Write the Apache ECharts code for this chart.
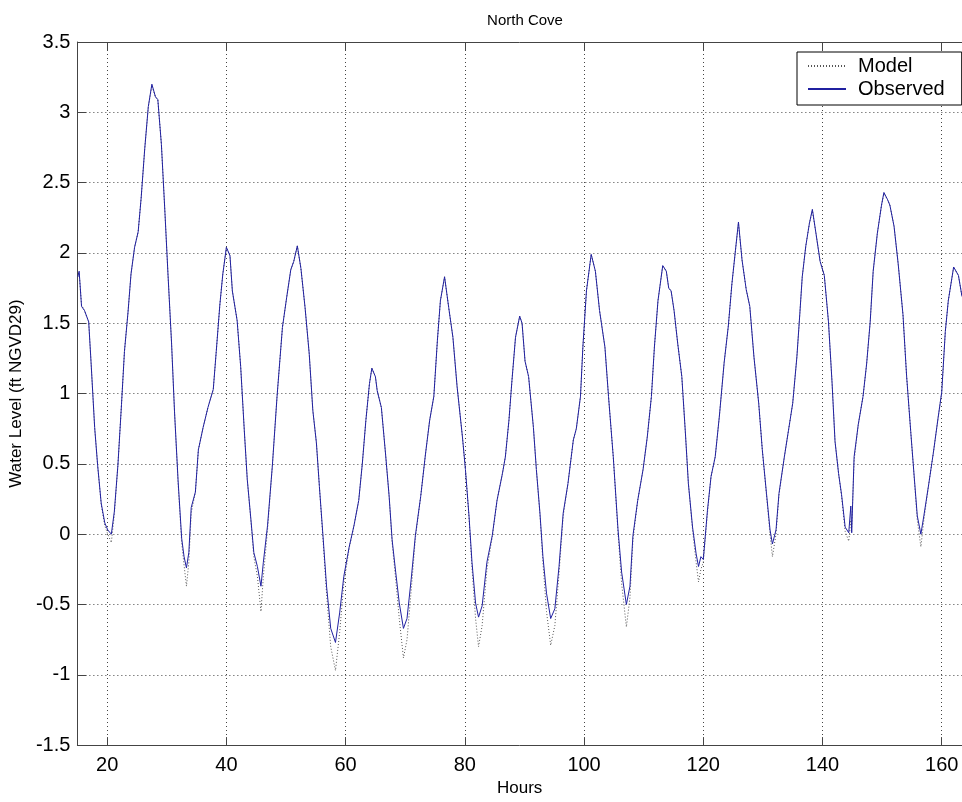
<!DOCTYPE html>
<html>
<head>
<meta charset="utf-8">
<title>North Cove</title>
<script src="https://cdn.jsdelivr.net/npm/echarts@6/dist/echarts.min.js"></script>
<style>
  html, body { margin: 0; padding: 0; background: #fff; }
  #main { width: 962px; height: 802px; }
</style>
</head>
<body>
<div id="main"></div>
<script>
// hours of each reading
var hours = [
  15.07, 15.3, 15.7, 16.2, 16.9, 17.3, 17.9, 18.4, 19.0, 19.6, 20.1, 20.7, 21.2, 21.8, 22.4, 22.9,
  23.5, 24.0, 24.6, 25.2, 25.7, 26.3, 26.9, 27.5, 28.1, 28.5, 29.1, 29.7, 30.2, 30.8, 31.3, 31.9,
  32.5, 32.9, 33.3, 33.7, 34.1, 34.8, 35.3, 36.1, 36.9, 37.8, 38.3, 38.9, 39.4, 40.0, 40.2, 40.6,
  41.0, 41.8, 42.4, 43.0, 43.5, 44.1, 44.6, 45.2, 45.8, 46.2, 46.9, 47.7, 48.5, 49.4, 50.1, 50.8,
  51.3, 51.9, 52.5, 53.2, 53.9, 54.5, 55.1, 55.6, 56.2, 56.8, 57.5, 58.3, 59.0, 59.7, 60.6, 61.4,
  62.2, 62.8, 63.4, 64.0, 64.4, 65.0, 65.3, 66.0, 66.7, 67.3, 67.8, 68.4, 69.0, 69.7, 70.3, 71.0,
  71.7, 72.6, 73.4, 74.1, 74.8, 75.4, 75.9, 76.6, 77.3, 78.0, 78.7, 79.6, 80.1, 80.7, 81.2, 81.8,
  82.3, 82.9, 83.7, 84.6, 85.4, 86.3, 86.8, 87.4, 87.9, 88.5, 89.2, 89.6, 90.1, 90.7, 91.5, 92.0,
  92.6, 93.1, 93.7, 94.4, 95.1, 95.8, 96.5, 97.3, 98.2, 98.7, 99.4, 99.8, 100.4, 101.2, 101.9, 102.6,
  103.5, 104.1, 104.9, 105.7, 106.3, 107.1, 107.7, 108.2, 109.0, 109.9, 110.6, 111.3, 111.8, 112.4, 113.2, 113.8,
  114.2, 114.6, 115.1, 115.7, 116.4, 117.0, 117.5, 118.2, 118.8, 119.2, 119.6, 120.0, 120.7, 121.3, 122.0, 122.7,
  123.5, 124.2, 124.8, 125.4, 125.9, 126.5, 127.2, 127.8, 128.5, 129.3, 129.9, 130.6, 131.2, 131.6, 132.2, 132.7,
  133.6, 134.3, 135.0, 135.7, 136.2, 136.6, 137.2, 137.8, 138.3, 138.9, 139.6, 140.3, 141.0, 141.6, 142.1, 142.7,
  143.2, 143.8, 144.4, 144.75, 144.9, 145.3, 146.0, 146.8, 147.4, 148.0, 148.5, 149.2, 149.9, 150.3, 150.9, 151.3,
  152.0, 152.7, 153.5, 154.1, 154.8, 155.4, 155.9, 156.5, 157.0, 157.8, 158.6, 159.4, 160.0, 160.6, 161.1, 162.0,
  162.8, 163.4
];

// observed water level (ft NGVD29)
var observed = [
  1.83, 1.87, 1.62, 1.59, 1.51, 1.22, 0.76, 0.49, 0.22, 0.08, 0.03, 0.00, 0.16, 0.49, 0.92, 1.30,
  1.58, 1.85, 2.04, 2.15, 2.39, 2.74, 3.04, 3.20, 3.11, 3.09, 2.77, 2.28, 1.85, 1.36, 0.87, 0.38,
  -0.03, -0.16, -0.24, -0.13, 0.19, 0.30, 0.60, 0.76, 0.90, 1.03, 1.30, 1.63, 1.85, 2.04, 2.05, 1.98,
  1.73, 1.52, 1.19, 0.74, 0.39, 0.11, -0.13, -0.23, -0.37, -0.20, 0.06, 0.48, 0.98, 1.47, 1.68, 1.88,
  1.94, 2.05, 1.89, 1.61, 1.28, 0.88, 0.65, 0.34, -0.01, -0.37, -0.67, -0.77, -0.56, -0.30, -0.09, 0.06,
  0.24, 0.50, 0.81, 1.07, 1.18, 1.12, 1.02, 0.90, 0.57, 0.27, -0.04, -0.27, -0.49, -0.67, -0.60, -0.32,
  -0.01, 0.27, 0.57, 0.81, 0.98, 1.38, 1.66, 1.83, 1.61, 1.40, 1.05, 0.69, 0.46, 0.13, -0.20, -0.49,
  -0.59, -0.51, -0.20, -0.01, 0.24, 0.43, 0.55, 0.81, 1.09, 1.40, 1.55, 1.50, 1.23, 1.12, 0.76, 0.46,
  0.15, -0.16, -0.42, -0.60, -0.53, -0.23, 0.15, 0.36, 0.67, 0.75, 0.98, 1.33, 1.73, 1.99, 1.87, 1.59,
  1.33, 0.98, 0.55, 0.03, -0.27, -0.50, -0.37, -0.01, 0.24, 0.46, 0.69, 0.98, 1.33, 1.66, 1.91, 1.87,
  1.75, 1.73, 1.59, 1.36, 1.12, 0.72, 0.36, 0.05, -0.14, -0.23, -0.16, -0.18, 0.17, 0.41, 0.55, 0.84,
  1.22, 1.48, 1.78, 2.02, 2.22, 1.95, 1.74, 1.62, 1.26, 0.93, 0.60, 0.29, 0.03, -0.07, 0.03, 0.29,
  0.55, 0.74, 0.93, 1.26, 1.57, 1.83, 2.05, 2.21, 2.31, 2.14, 1.94, 1.84, 1.51, 1.08, 0.66, 0.43,
  0.28, 0.05, 0.01, 0.20, 0.01, 0.55, 0.78, 0.98, 1.21, 1.51, 1.87, 2.14, 2.34, 2.43, 2.38, 2.34,
  2.19, 1.92, 1.56, 1.13, 0.73, 0.40, 0.13, 0.00, 0.13, 0.35, 0.58, 0.83, 1.01, 1.44, 1.66, 1.90,
  1.84, 1.69
];

// model water level (ft NGVD29)
var model = [
  1.83, 1.86, 1.63, 1.59, 1.51, 1.22, 0.76, 0.49, 0.21, 0.06, 0.00, -0.06, 0.14, 0.49, 0.92, 1.30,
  1.58, 1.85, 2.04, 2.15, 2.39, 2.74, 3.04, 3.19, 3.11, 3.09, 2.77, 2.28, 1.85, 1.36, 0.87, 0.36,
  -0.06, -0.22, -0.37, -0.20, 0.15, 0.30, 0.60, 0.76, 0.90, 1.03, 1.30, 1.63, 1.85, 2.04, 2.05, 1.98,
  1.73, 1.52, 1.19, 0.74, 0.39, 0.10, -0.16, -0.30, -0.55, -0.30, 0.03, 0.48, 0.98, 1.47, 1.68, 1.88,
  1.94, 2.05, 1.89, 1.61, 1.28, 0.88, 0.65, 0.34, -0.03, -0.42, -0.80, -0.97, -0.70, -0.35, -0.10, 0.06,
  0.24, 0.50, 0.81, 1.07, 1.18, 1.12, 1.02, 0.90, 0.57, 0.27, -0.06, -0.32, -0.60, -0.88, -0.75, -0.40,
  -0.03, 0.27, 0.57, 0.81, 0.98, 1.38, 1.66, 1.83, 1.61, 1.40, 1.05, 0.69, 0.46, 0.12, -0.24, -0.60,
  -0.80, -0.65, -0.25, -0.02, 0.24, 0.43, 0.55, 0.81, 1.09, 1.40, 1.55, 1.50, 1.23, 1.12, 0.76, 0.46,
  0.14, -0.20, -0.55, -0.79, -0.65, -0.28, 0.13, 0.36, 0.67, 0.75, 0.98, 1.33, 1.73, 1.99, 1.87, 1.59,
  1.33, 0.98, 0.55, 0.01, -0.35, -0.66, -0.45, -0.04, 0.24, 0.46, 0.69, 0.98, 1.33, 1.66, 1.91, 1.87,
  1.75, 1.73, 1.59, 1.36, 1.12, 0.72, 0.36, 0.03, -0.20, -0.34, -0.25, -0.20, 0.15, 0.41, 0.55, 0.84,
  1.22, 1.48, 1.78, 2.02, 2.21, 1.95, 1.74, 1.62, 1.26, 0.93, 0.60, 0.28, 0.00, -0.16, 0.00, 0.28,
  0.55, 0.74, 0.93, 1.26, 1.57, 1.83, 2.05, 2.21, 2.30, 2.14, 1.94, 1.84, 1.51, 1.08, 0.66, 0.43,
  0.27, 0.02, -0.05, 0.10, 0.05, 0.52, 0.78, 0.98, 1.21, 1.51, 1.87, 2.14, 2.34, 2.42, 2.38, 2.34,
  2.19, 1.92, 1.56, 1.13, 0.73, 0.39, 0.10, -0.09, 0.10, 0.35, 0.58, 0.83, 1.01, 1.44, 1.66, 1.90,
  1.84, 1.69
];

var modelPts = [];
var obsPts = [];
for (var i = 0; i < hours.length; i++) {
  modelPts.push([hours[i], model[i]]);
  obsPts.push([hours[i], observed[i]]);
}

var font = 'Arial, "Liberation Sans", sans-serif';
var gridDots = { type: [1, 3], color: '#444', width: 1 };

var myChart = echarts.init(document.getElementById('main'));
myChart.setOption({
  animation: false,
  title: {
    text: 'North Cove',
    left: 520,
    top: 8,
    textAlign: 'center',
    textStyle: { fontFamily: font, fontSize: 15, fontWeight: 'normal', color: '#000' }
  },
  legend: {
    orient: 'vertical',
    left: 797,
    top: 52,
    padding: [4, 17, 6, 10],
    itemWidth: 38,
    itemHeight: 14,
    itemGap: 3,
    backgroundColor: '#fff',
    borderColor: '#000',
    borderWidth: 1,
    borderRadius: 0,
    itemStyle: { opacity: 0 },
    textStyle: { fontFamily: font, fontSize: 20, color: '#000', lineHeight: 20, padding: [0, 0, 0, 7] },
    data: ['Model', 'Observed']
  },
  grid: { left: 77, top: 42, right: 0, bottom: 55, containLabel: false },
  xAxis: [{
    type: 'value',
    min: 15,
    max: 163.4,
    minInterval: 20,
    maxInterval: 20,
    name: 'Hours',
    nameLocation: 'middle',
    nameGap: 31,
    nameTextStyle: { fontFamily: font, fontSize: 17, color: '#000' },
    axisLine: { show: true, onZero: false, lineStyle: { color: '#444', width: 1 } },
    axisTick: { show: true, inside: true, length: 8, lineStyle: { color: '#444' } },
    axisLabel: {
      fontFamily: font, fontSize: 20, color: '#000', margin: 10,
      showMinLabel: false, showMaxLabel: false
    },
    splitLine: { show: true, lineStyle: gridDots }
  }, {
    type: 'value',
    position: 'top',
    min: 15,
    max: 163.4,
    minInterval: 20,
    maxInterval: 20,
    axisLine: { show: true, onZero: false, lineStyle: { color: '#444', width: 1 } },
    axisTick: { show: true, inside: true, length: 8, lineStyle: { color: '#444' } },
    axisLabel: { show: false },
    splitLine: { show: false }
  }],
  yAxis: {
    type: 'value',
    min: -1.5,
    max: 3.5,
    interval: 0.5,
    name: 'Water Level (ft NGVD29)',
    nameLocation: 'middle',
    nameGap: 50,
    nameTextStyle: { fontFamily: font, fontSize: 17, color: '#000' },
    axisLine: { show: true, onZero: false, lineStyle: { color: '#444', width: 1 } },
    axisTick: { show: true, inside: true, length: 9, lineStyle: { color: '#444' } },
    axisLabel: { fontFamily: font, fontSize: 20, color: '#000', margin: 7 },
    splitLine: { show: true, lineStyle: gridDots }
  },
  series: [{
    name: 'Model',
    type: 'line',
    data: modelPts,
    symbol: 'none',
    lineStyle: { color: '#555', width: 1, type: [1, 2] },
    itemStyle: { color: '#555' }
  }, {
    name: 'Observed',
    type: 'line',
    data: obsPts,
    symbol: 'none',
    lineStyle: { color: '#2020a0', width: 1 },
    itemStyle: { color: '#2020a0' }
  }]
});
</script>
</body>
</html>
